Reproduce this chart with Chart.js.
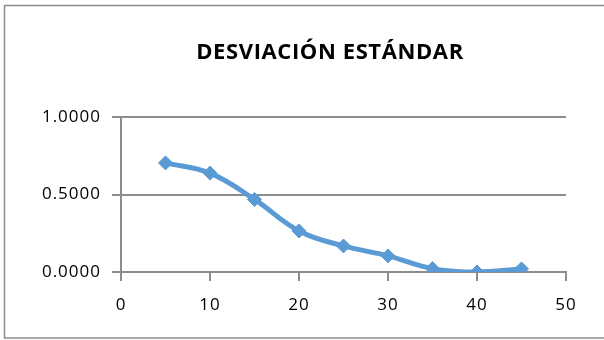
<!DOCTYPE html>
<html>
<head>
<meta charset="utf-8">
<script src="https://cdn.jsdelivr.net/npm/chart.js@4/dist/chart.umd.min.js"></script>
<style>
  html, body { margin: 0; padding: 0; background: #ffffff; }
  #wrap { width: 604px; height: 340px; position: relative; }
</style>
</head>
<body>
<div id="wrap"><canvas id="c" width="604" height="340"></canvas></div>
<script>
// Standard deviation by sample size
const xValues = [5, 10, 15, 20, 25, 30, 35, 40, 45];
const stdDev = [0.704, 0.638, 0.468, 0.265, 0.168, 0.104, 0.022, 0.000, 0.020];
const yTicks = [0, 0.5, 1];
const xTicks = [0, 10, 20, 30, 40, 50];
const chartTitle = 'DESVIACIÓN ESTÁNDAR';

const points = xValues.map((x, i) => ({ x: x, y: stdDev[i] }));
const lineColor = '#5B9BD5';
const axisColor = '#8C8C8C';
const fontFamily = '"Open Sans", "Liberation Sans", sans-serif';

// white background, outer frame, and slightly wider letter spacing for tick text
const framePlugin = {
  id: 'frame',
  beforeDraw(chart) {
    const ctx = chart.ctx;
    ctx.save();
    ctx.fillStyle = '#ffffff';
    ctx.fillRect(0, 0, chart.width, chart.height);
    ctx.strokeStyle = axisColor;
    ctx.lineWidth = 1.5;
    ctx.strokeRect(4.5, 5.5, chart.width + 10, 332.5);
    ctx.restore();
    ctx.letterSpacing = '1px';
  }
};

// heading, centred over the plot frame rather than the whole canvas
const headingPlugin = {
  id: 'heading',
  afterDraw(chart) {
    const ctx = chart.ctx;
    ctx.save();
    ctx.letterSpacing = '0.6px';
    ctx.font = 'bold 22px ' + fontFamily;
    ctx.fillStyle = '#000000';
    ctx.textAlign = 'center';
    ctx.textBaseline = 'alphabetic';
    ctx.fillText(chartTitle, 330, 59);
    ctx.restore();
  }
};

new Chart(document.getElementById('c'), {
  type: 'line',
  data: {
    datasets: [{
      data: points,
      borderColor: lineColor,
      backgroundColor: lineColor,
      borderWidth: 5,
      tension: 0.4,
      pointStyle: 'rectRot',
      pointRadius: 7,
      pointHoverRadius: 7,
      pointBorderWidth: 1,
      pointBorderColor: lineColor,
      pointBackgroundColor: lineColor,
      fill: false
    }]
  },
  options: {
    responsive: false,
    animation: false,
    layout: { padding: { left: 0, right: 38, top: 117, bottom: 0 } },
    plugins: {
      legend: { display: false },
      tooltip: { enabled: false },
      title: { display: false }
    },
    scales: {
      x: {
        type: 'linear',
        min: 0,
        max: 50,
        afterBuildTicks(scale) { scale.ticks = xTicks.map(v => ({ value: v })); },
        afterFit(scale) { scale.height = 68; },
        grid: {
          drawOnChartArea: false,
          drawTicks: true,
          tickLength: 9,
          color: axisColor,
          lineWidth: 2
        },
        border: { display: true, color: axisColor, width: 2 },
        ticks: {
          color: '#000000',
          padding: 14,
          font: { family: fontFamily, size: 17 },
          maxRotation: 0
        }
      },
      y: {
        min: 0,
        max: 1,
        afterBuildTicks(scale) { scale.ticks = yTicks.map(v => ({ value: v })); },
        afterFit(scale) { scale.width = 121; },
        grid: {
          drawTicks: true,
          tickLength: 9,
          color: axisColor,
          lineWidth: 2
        },
        border: { display: true, color: axisColor, width: 2 },
        ticks: {
          color: '#000000',
          padding: 11,
          font: { family: fontFamily, size: 17 },
          callback: v => Number(v).toFixed(4)
        }
      }
    }
  },
  plugins: [framePlugin, headingPlugin]
});
</script>
</body>
</html>
